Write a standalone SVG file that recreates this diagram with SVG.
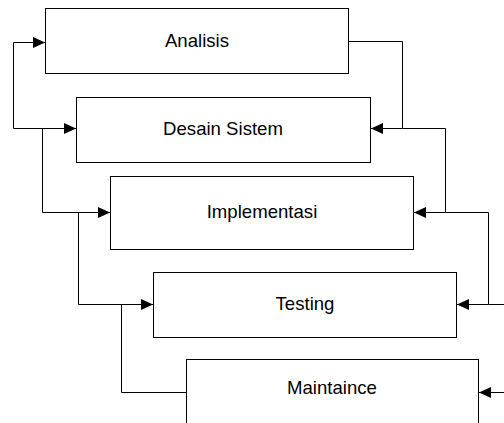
<svg xmlns="http://www.w3.org/2000/svg" width="504" height="423" viewBox="0 0 504 423">
<style>
.box{fill:#fff;stroke:#000;stroke-width:1}
.lbl{font-family:"Liberation Sans",Arial,sans-serif;font-size:18.6px;fill:#000;text-anchor:middle}
.con{fill:none;stroke:#000;stroke-width:1}
</style>
<defs>
<marker id="arr" markerUnits="userSpaceOnUse" markerWidth="13" markerHeight="12" refX="12" refY="5.5" orient="auto">
<path d="M0,0 L12,5.5 L0,11 z" fill="#000"/>
</marker>
</defs>
<rect width="504" height="423" fill="#fff"/>
<g id="analisis"><rect class="box" x="45.5" y="8.5" width="303" height="65"/><text class="lbl" x="197" y="47">Analisis</text></g>
<g id="desain"><rect class="box" x="76.5" y="97.5" width="294" height="65"/><text class="lbl" x="223" y="135">Desain Sistem</text></g>
<g id="implementasi"><rect class="box" x="110.5" y="176.5" width="303" height="73"/><text class="lbl" x="262" y="218">Implementasi</text></g>
<g id="testing"><rect class="box" x="153.5" y="272.5" width="303" height="65"/><text class="lbl" x="305" y="310">Testing</text></g>
<g id="maintaince"><rect class="box" x="186.5" y="359.5" width="292" height="70"/><text class="lbl" x="332" y="394">Maintaince</text></g>
<g id="connectors">
<path class="con" d="M13.5,128.5 V42.5 H45" marker-end="url(#arr)"/>
<path class="con" d="M13.5,128.5 H76" marker-end="url(#arr)"/>
<path class="con" d="M42.5,128.5 V212.5 H110" marker-end="url(#arr)"/>
<path class="con" d="M78.5,212.5 V304.5 H153" marker-end="url(#arr)"/>
<path class="con" d="M121.5,304.5 V392.5 H186"/>
<path class="con" d="M348,41.5 H402.5 V128.5 H371" marker-end="url(#arr)"/>
<path class="con" d="M402.5,128.5 H445.5 V212.5 H414" marker-end="url(#arr)"/>
<path class="con" d="M445.5,212.5 H488.5 V304.5 H457" marker-end="url(#arr)"/>
<path class="con" d="M488.5,304.5 H504"/>
<path class="con" d="M504,392.5 H479" marker-end="url(#arr)"/>
</g>
</svg>
